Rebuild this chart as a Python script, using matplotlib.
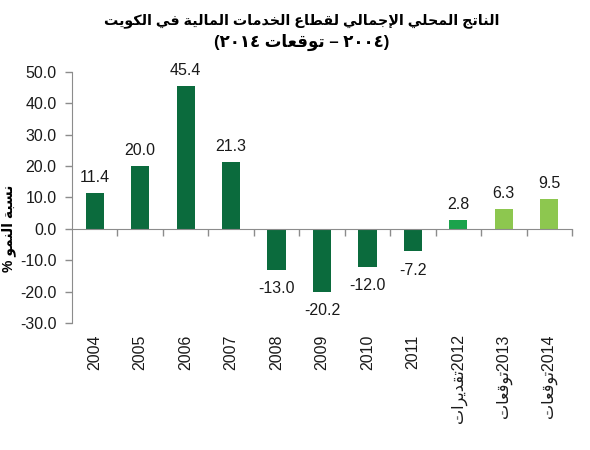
import matplotlib
matplotlib.use("Agg")
import matplotlib.pyplot as plt
import matplotlib.transforms as mtransforms
import numpy as np

# data
years = ['2004', '2005', '2006', '2007', '2008', '2009', '2010', '2011', '2012', '2013', '2014']
suffix = ['', '', '', '', '', '', '', '', 'تقديرات', 'توقعات', 'توقعات']
growth = [11.4, 20.0, 45.4, 21.3, -13.0, -20.2, -12.0, -7.2, 2.8, 6.3, 9.5]
bar_colors = ['#0b6b3d'] * 8 + ['#1ba34c', '#8dc74f', '#8dc74f']

title_words = 'الناتج المحلي الإجمالي لقطاع الخدمات المالية في الكويت'
ylabel_words = 'نسبة النمو'

# tiny arabic shaper (matplotlib has no bidi / joining)
FORMS = {
    'ا': ('\uFE8D', '\uFE8E', None, None),
    'إ': ('\uFE87', '\uFE88', None, None),
    'ب': ('\uFE8F', '\uFE90', '\uFE91', '\uFE92'),
    'ة': ('\uFE93', '\uFE94', None, None),
    'ت': ('\uFE95', '\uFE96', '\uFE97', '\uFE98'),
    'ج': ('\uFE9D', '\uFE9E', '\uFE9F', '\uFEA0'),
    'ح': ('\uFEA1', '\uFEA2', '\uFEA3', '\uFEA4'),
    'خ': ('\uFEA5', '\uFEA6', '\uFEA7', '\uFEA8'),
    'د': ('\uFEA9', '\uFEAA', None, None),
    'ر': ('\uFEAD', '\uFEAE', None, None),
    'س': ('\uFEB1', '\uFEB2', '\uFEB3', '\uFEB4'),
    'ط': ('\uFEC1', '\uFEC2', '\uFEC3', '\uFEC4'),
    'ع': ('\uFEC9', '\uFECA', '\uFECB', '\uFECC'),
    'ف': ('\uFED1', '\uFED2', '\uFED3', '\uFED4'),
    'ق': ('\uFED5', '\uFED6', '\uFED7', '\uFED8'),
    'ك': ('\uFED9', '\uFEDA', '\uFEDB', '\uFEDC'),
    'ل': ('\uFEDD', '\uFEDE', '\uFEDF', '\uFEE0'),
    'م': ('\uFEE1', '\uFEE2', '\uFEE3', '\uFEE4'),
    'ن': ('\uFEE5', '\uFEE6', '\uFEE7', '\uFEE8'),
    'و': ('\uFEED', '\uFEEE', None, None),
    'ي': ('\uFEF1', '\uFEF2', '\uFEF3', '\uFEF4'),
    'لا': ('\uFEFB', '\uFEFC', None, None),
    'لإ': ('\uFEF9', '\uFEFA', None, None),
}


def shape_word(w):
    toks = []
    i = 0
    while i < len(w):
        if len(w[i:i + 2]) == 2 and w[i:i + 2] in FORMS:
            toks.append(w[i:i + 2])
            i += 2
        else:
            toks.append(w[i])
            i += 1
    out = []
    for k, t in enumerate(toks):
        f = FORMS[t]
        prev = k > 0 and FORMS[toks[k - 1]][2] is not None
        nxt = k < len(toks) - 1 and f[2] is not None
        if prev and nxt:
            out.append(f[3])
        elif prev:
            out.append(f[1])
        elif nxt:
            out.append(f[2])
        else:
            out.append(f[0])
    return ''.join(reversed(out))


def rtl(s):
    return ' '.join(shape_word(w) for w in reversed(s.split()))


fig = plt.figure(figsize=(5.9, 4.5), dpi=100)
ax = fig.add_axes([72 / 590, 1 - 323 / 450, 500 / 590, 251 / 450])

x = np.arange(len(years))
bars = ax.bar(x, growth, width=0.4, color=bar_colors, zorder=2)

for xi, v in zip(x, growth):
    if v >= 0:
        ax.annotate(f'{v:.1f}', (xi, v), xytext=(0, 6), textcoords='offset points',
                    ha='center', va='bottom', fontsize=11.5, family='Liberation Sans',
                    color='#1a1a1a')
    else:
        ax.annotate(f'{v:.1f}', (xi, v), xytext=(0, -8), textcoords='offset points',
                    ha='center', va='top', fontsize=11.5, family='Liberation Sans',
                    color='#1a1a1a')

ax.set_xlim(-0.5, len(years) - 0.5)
ax.set_ylim(-30, 50)
ax.set_yticks(np.arange(-30, 51, 10))
ax.set_yticklabels([f'{t:.1f}' for t in np.arange(-30, 51, 10)],
                   fontsize=11.5, family='Liberation Sans')
ax.set_xticks(np.arange(0.5, len(years), 1))
ax.set_xticklabels([])

for s in ['top', 'right']:
    ax.spines[s].set_visible(False)
ax.spines['bottom'].set_position(('data', 0))
for s in ['left', 'bottom']:
    ax.spines[s].set_color('#8c8c8c')
ax.tick_params(axis='both', colors='#8c8c8c', direction='out', length=5, width=1)
ax.tick_params(axis='y', labelcolor='#1a1a1a', pad=6)

# category labels along the bottom
trans = mtransforms.blended_transform_factory(ax.transData, ax.transAxes)
for xi, yr, sf in zip(x, years, suffix):
    lab = shape_word(sf) + yr if sf else yr
    ax.text(xi, -0.045, lab, transform=trans, rotation=90, ha='center', va='top',
            fontsize=11.5, family=['Liberation Sans', 'DejaVu Sans'], color='#1a1a1a')

ax.set_ylabel('% ' + rtl(ylabel_words), fontsize=10, fontweight='bold',
              family=['Liberation Sans', 'DejaVu Sans'])
ax.yaxis.set_label_coords(-0.112, 0.378)

fig.text(0.512, 0.955, rtl(title_words), ha='center', va='center',
         fontsize=10.3, fontweight='bold', family=['Liberation Sans', 'DejaVu Sans'])
line2 = '(' + '٢٠١٤ ' + shape_word('توقعات') + ' – ' + '٢٠٠٤' + ')'
fig.text(0.512, 0.905, line2, ha='center', va='center',
         fontsize=12, fontweight='bold', family=['Liberation Sans', 'DejaVu Sans'])

fig.savefig('out.png', dpi=100)
